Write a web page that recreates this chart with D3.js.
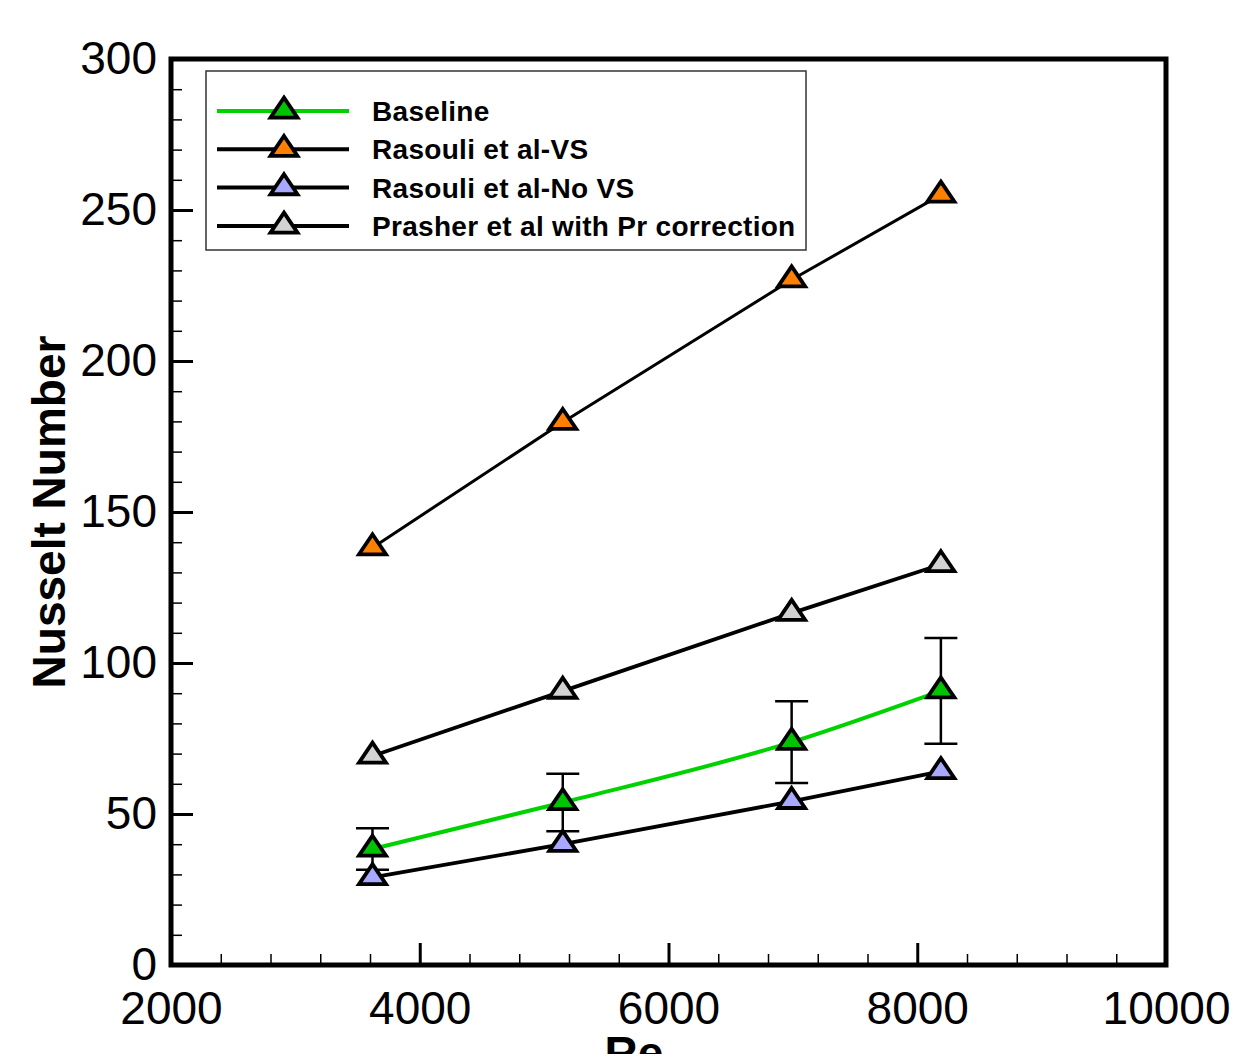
<!DOCTYPE html>
<html>
<head>
<meta charset="utf-8">
<script src="https://cdn.jsdelivr.net/npm/d3@7"></script>
<style>
  html, body { margin: 0; padding: 0; background: #fff; }
  svg { display: block; }
  text { font-family: "Liberation Sans", Arial, sans-serif; }
</style>
</head>
<body>
<svg id="chart" width="1237" height="1054"></svg>
<script>
// Reynolds numbers of the four test cases
const reynolds = [3620, 5150, 6990, 8190];

// Nusselt number per series
const baseline = [38.4, 53.8, 73.8, 90.8];
const baselineErr = [6.9, 9.5, 13.5, 17.5];
const rasouliVS = [138.2, 179.7, 226.9, 255.0];
const rasouliNoVS = [29.0, 40.0, 54.2, 64.1];
const prasher = [69.2, 90.7, 116.5, 132.6];

// Axis ticks
const xMajor = [2000, 4000, 6000, 8000, 10000];
const xMinor = d3.range(2000, 10001, 400).filter(v => v % 2000 !== 0);
const yMajor = [0, 50, 100, 150, 200, 250, 300];
const yMinor = d3.range(0, 301, 10).filter(v => v % 50 !== 0);

const seriesNames = ["Baseline", "Rasouli et al-VS", "Rasouli et al-No VS", "Prasher et al with Pr correction"];
const markerFills = ["#00c400", "#ff8000", "#a8a8ff", "#d2d2d2"];
const lineColors = ["#00d200", "#000000", "#000000", "#000000"];

const svg = d3.select("#chart");

const plotLeft = 171, plotRight = 1166, plotTop = 59, plotBottom = 965;
const x = d3.scaleLinear().domain([2000, 10000]).range([plotLeft, plotRight]);
const y = d3.scaleLinear().domain([0, 300]).range([plotBottom, plotTop]);

// Triangle centred on its centroid
function triangle(w, h) {
  return `M0,${-2 * h / 3}L${w / 2},${h / 3}L${-w / 2},${h / 3}Z`;
}
const triPath = triangle(27, 20);
const markerStroke = 3.8;

// Axes: ticks point inward
const axisG = svg.append("g");

const xAxisMinor = d3.axisBottom(x).tickValues(xMinor).tickSizeInner(-11).tickSizeOuter(0).tickFormat("");
const xAxisMajor = d3.axisBottom(x).tickValues(xMajor).tickSizeInner(-22).tickSizeOuter(0)
  .tickPadding(26).tickFormat(d3.format("d"));
const yAxisMinor = d3.axisLeft(y).tickValues(yMinor).tickSizeInner(-11).tickSizeOuter(0).tickFormat("");
const yAxisMajor = d3.axisLeft(y).tickValues(yMajor).tickSizeInner(-22).tickSizeOuter(0)
  .tickPadding(14).tickFormat(d3.format("d"));

function styleAxis(g, width) {
  g.select(".domain").remove();
  g.selectAll(".tick line").attr("stroke", "#000").attr("stroke-width", width);
  g.selectAll(".tick text").attr("fill", "#000")
    .style("font-family", '"Liberation Sans", Arial, sans-serif')
    .style("font-size", "46px");
}

axisG.append("g").attr("transform", `translate(0,${plotBottom})`).call(xAxisMinor).call(g => styleAxis(g, 1.5));
axisG.append("g").attr("transform", `translate(0,${plotBottom})`).call(xAxisMajor).call(g => styleAxis(g, 3));
axisG.append("g").attr("transform", `translate(${plotLeft},0)`).call(yAxisMinor).call(g => styleAxis(g, 1.5));
axisG.append("g").attr("transform", `translate(${plotLeft},0)`).call(yAxisMajor).call(g => styleAxis(g, 3));

// Plot frame
svg.append("rect")
  .attr("x", plotLeft).attr("y", plotTop)
  .attr("width", plotRight - plotLeft).attr("height", plotBottom - plotTop)
  .attr("fill", "none").attr("stroke", "#000").attr("stroke-width", 5);

// Axis titles
svg.append("text")
  .attr("transform", `translate(65,${(plotTop + plotBottom) / 2}) rotate(-90)`)
  .attr("text-anchor", "middle")
  .style("font-weight", "bold").style("font-size", "46px")
  .text("Nusselt Number");

svg.append("text")
  .attr("x", 634).attr("y", 1069)
  .attr("text-anchor", "middle")
  .style("font-weight", "bold").style("font-size", "46px")
  .text("Re");

// Series data
const series = [baseline, rasouliVS, rasouliNoVS, prasher].map((vals, i) => ({
  name: seriesNames[i],
  fill: markerFills[i],
  stroke: lineColors[i],
  points: reynolds.map((re, j) => ({ re, nu: vals[j] }))
}));

const straight = d3.line().x(d => x(d.re)).y(d => y(d.nu));
const smooth = d3.line().x(d => x(d.re)).y(d => y(d.nu)).curve(d3.curveMonotoneX);

const plotG = svg.append("g");

// Lines
series.forEach((s, i) => {
  plotG.append("path")
    .datum(s.points)
    .attr("d", i === 0 ? smooth : straight)
    .attr("fill", "none")
    .attr("stroke", s.stroke)
    .attr("stroke-width", i === 0 ? 4 : (i === 1 ? 3 : 3.8));
});

// Error bars on the baseline
const errData = reynolds.map((re, j) => ({ re, lo: baseline[j] - baselineErr[j], hi: baseline[j] + baselineErr[j] }));
const errG = plotG.append("g").attr("stroke", "#000").attr("stroke-width", 2.5);
errG.selectAll("line.stem").data(errData).join("line")
  .attr("class", "stem")
  .attr("x1", d => x(d.re)).attr("x2", d => x(d.re))
  .attr("y1", d => y(d.lo)).attr("y2", d => y(d.hi));
errG.selectAll("line.capHi").data(errData).join("line")
  .attr("class", "capHi")
  .attr("x1", d => x(d.re) - 16.5).attr("x2", d => x(d.re) + 16.5)
  .attr("y1", d => y(d.hi)).attr("y2", d => y(d.hi));
errG.selectAll("line.capLo").data(errData).join("line")
  .attr("class", "capLo")
  .attr("x1", d => x(d.re) - 16.5).attr("x2", d => x(d.re) + 16.5)
  .attr("y1", d => y(d.lo)).attr("y2", d => y(d.lo));

// Markers
series.forEach(s => {
  plotG.append("g").selectAll("path").data(s.points).join("path")
    .attr("d", triPath)
    .attr("transform", d => `translate(${x(d.re)},${y(d.nu)})`)
    .attr("fill", s.fill)
    .attr("stroke", "#000")
    .attr("stroke-width", markerStroke)
    .attr("stroke-linejoin", "miter");
});

// Legend
const legend = svg.append("g");
legend.append("rect")
  .attr("x", 206).attr("y", 71).attr("width", 600).attr("height", 179)
  .attr("fill", "#fff").attr("stroke", "#333").attr("stroke-width", 1.5);

series.forEach((s, i) => {
  const rowY = 111 + i * 38.3;
  legend.append("line")
    .attr("x1", 217).attr("x2", 349).attr("y1", rowY).attr("y2", rowY)
    .attr("stroke", s.stroke).attr("stroke-width", 4);
  legend.append("path")
    .attr("d", triPath)
    .attr("transform", `translate(284,${rowY})`)
    .attr("fill", s.fill).attr("stroke", "#000").attr("stroke-width", markerStroke);
  legend.append("text")
    .attr("x", 372).attr("y", rowY + 10)
    .style("font-weight", "bold").style("font-size", "28px")
    .style("letter-spacing", "0.3px")
    .text(s.name);
});
</script>
</body>
</html>
